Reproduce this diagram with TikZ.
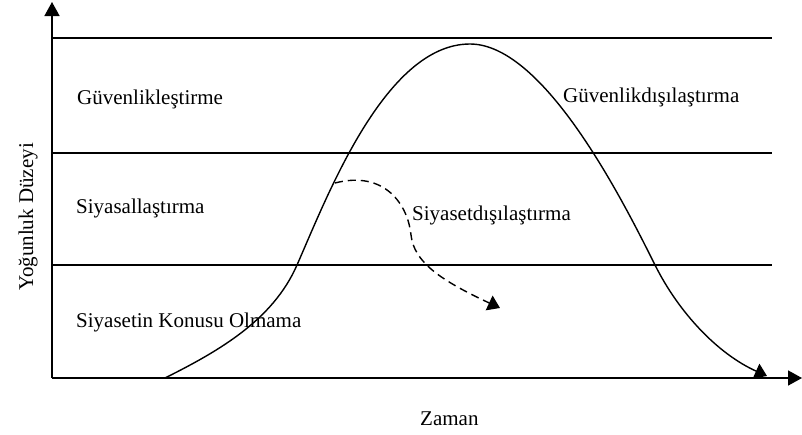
\documentclass[tikz,border=0pt]{standalone}
\usepackage{fontspec}
\setmainfont{Liberation Serif}
\usetikzlibrary{positioning,arrows.meta}

\begin{document}
\begin{tikzpicture}[
        x=1pt, y=-1pt,
        every node/.style={font=\fontsize{21}{25}\selectfont, inner sep=0pt},
        axisline/.style={line width=1.6pt, -{Triangle[length=14pt,width=15pt]}},
        levelline/.style={line width=1.4pt},
        curveline/.style={line width=1.4pt, -{Triangle[length=12pt,width=16pt]}},
        driftline/.style={line width=1.4pt, dash pattern=on 8pt off 5pt,
          -{Triangle[length=12pt,width=16pt]}},
        zonelabel/.style={anchor=base west}
      ]
      \useasboundingbox (0,0) rectangle (802,434);

      % axes
      \coordinate (origin) at (52,378);
      \coordinate (ytop) at (52,2);
      \coordinate (xend) at (802,378);
      \draw[axisline] (origin) -- (ytop);
      \draw[axisline] (origin) -- (xend);

      % level lines
      \coordinate (top-l) at (52,38);
      \coordinate (top-r) at (772,38);
      \coordinate (mid-l) at (52,153);
      \coordinate (mid-r) at (772,153);
      \coordinate (low-l) at (52,265);
      \coordinate (low-r) at (772,265);
      \draw[levelline] (top-l) -- (top-r);
      \draw[levelline] (mid-l) -- (mid-r);
      \draw[levelline] (low-l) -- (low-r);

      % zone labels
      \node[zonelabel] (secur) at (77,104) {Güvenlikleştirme};
      \node[zonelabel] (desecur) at (563,102) {Güvenlikdışılaştırma};
      \node[zonelabel] (polit) at (76,213) {Siyasallaştırma};
      \node[zonelabel] (depolit) at (412,220) {Siyasetdışılaştırma};
      \node[zonelabel] (nonpolit) at (76,327) {Siyasetin Konusu Olmama};

      % axis labels
      \node[rotate=90, anchor=base] (ylabel) at (33,217) {Yoğunluk Düzeyi};
      \node[anchor=base west] (xlabel) at (420,425) {Zaman};

      % main curve
      \coordinate (start) at (165,378);
      \coordinate (rise) at (297,265);
      \coordinate (peak) at (470,44);
      \coordinate (fall) at (655,265);
      \coordinate (finish) at (767,376);
      \draw[curveline]
        (start) .. controls +(54,-27) and +(-24,55) .. (rise)
        .. controls +(30,-68) and +(-85,0) .. (peak)
        .. controls +(75,0) and +(-30,-60) .. (fall)
        .. controls +(24,48) and +(-49,-22) .. (finish);

      % dashed curve
      \coordinate (dstart) at (335,183);
      \coordinate (dturn) at (411,235);
      \coordinate (dend) at (500,308);
      \draw[driftline]
        (dstart) .. controls +(50,-13) and +(-3,-30) .. (dturn)
        .. controls +(3,27) and +(-60,-28) .. (dend);

    \end{tikzpicture}
\end{document}
